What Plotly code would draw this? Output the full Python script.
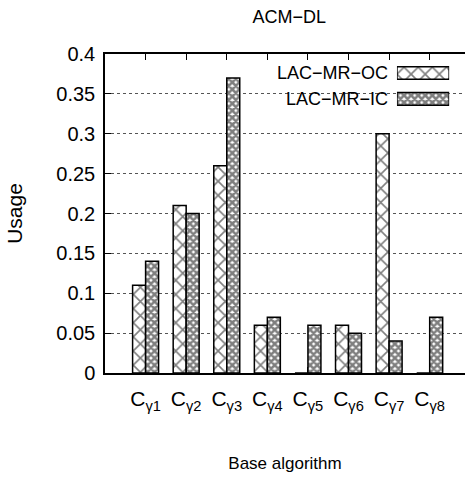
import plotly.graph_objects as go

categories = ["C<sub>γ1</sub>", "C<sub>γ2</sub>", "C<sub>γ3</sub>", "C<sub>γ4</sub>",
              "C<sub>γ5</sub>", "C<sub>γ6</sub>", "C<sub>γ7</sub>", "C<sub>γ8</sub>"]
oc_values = [0.11, 0.21, 0.26, 0.06, 0.0, 0.06, 0.30, 0.0]
ic_values = [0.14, 0.20, 0.37, 0.07, 0.06, 0.05, 0.04, 0.07]
series_names = ["LAC−MR−OC", "LAC−MR−IC"]
y_ticks = [0, 0.05, 0.1, 0.15, 0.2, 0.25, 0.3, 0.35, 0.4]

FONT = "Liberation Sans"
pat_oc = dict(shape="x", size=10, solidity=0.3, fgcolor="black", bgcolor="white")
pat_ic = dict(shape="x", size=5, solidity=0.75, fgcolor="black", bgcolor="white")

fig = go.Figure()
fig.add_trace(go.Bar(x=categories, y=oc_values, name=series_names[0],
                     marker=dict(color="white", pattern=pat_oc,
                                 line=dict(color="black", width=1.5)),
                     showlegend=False))
fig.add_trace(go.Bar(x=categories, y=ic_values, name=series_names[1],
                     marker=dict(color="white", pattern=pat_ic,
                                 line=dict(color="black", width=1.5)),
                     showlegend=False))

# legend key drawn as small inset bars with tick labels as the legend text
for name, pat in zip(series_names, [pat_oc, pat_ic]):
    fig.add_trace(go.Bar(x=[1], y=[name], orientation="h", width=0.49,
                         xaxis="x2", yaxis="y2",
                         marker=dict(color="white", pattern=pat,
                                     line=dict(color="black", width=1.5)),
                         showlegend=False, hoverinfo="skip"))

fig.update_layout(
    width=465, height=481,
    margin=dict(l=105, r=0, t=54, b=108),
    paper_bgcolor="white", plot_bgcolor="white",
    font=dict(family=FONT, size=18, color="black"),
    barmode="group", bargap=0.36, bargroupgap=0.0,
    title=dict(text="ACM−DL", x=0.622, xanchor="center", y=0.965, yanchor="middle",
               font=dict(family=FONT, size=18)),
    xaxis=dict(type="category", range=[-1, 7.87], showline=True, linecolor="black",
               linewidth=2, mirror="ticks", ticks="inside", ticklen=6, tickwidth=1,
               tickcolor="black", showgrid=False,
               title=dict(text="Base algorithm", font=dict(size=17), standoff=44),
               tickfont=dict(size=21), ticklabelstandoff=6),
    yaxis=dict(range=[0, 0.4], tickvals=y_ticks, ticktext=[f"{v:g}" for v in y_ticks],
               showline=True, linecolor="black", linewidth=1.5, mirror=False,
               ticks="inside", ticklen=6, tickcolor="black",
               showgrid=True, gridcolor="#555555", griddash="dot", gridwidth=1,
               zeroline=False,
               title=dict(text="Usage", font=dict(size=21), standoff=28),
               tickfont=dict(size=20), ticklabelstandoff=4),
    xaxis2=dict(domain=[0.811, 0.956], range=[0, 1], anchor="y2", visible=False,
                fixedrange=True),
    yaxis2=dict(domain=[0.819, 0.981], anchor="x2", type="category",
                categoryorder="array", categoryarray=series_names[::-1],
                showline=False, showgrid=False, zeroline=False, ticks="",
                tickfont=dict(size=18), ticklabelstandoff=8, fixedrange=True),
)

fig.write_html("out.html")
